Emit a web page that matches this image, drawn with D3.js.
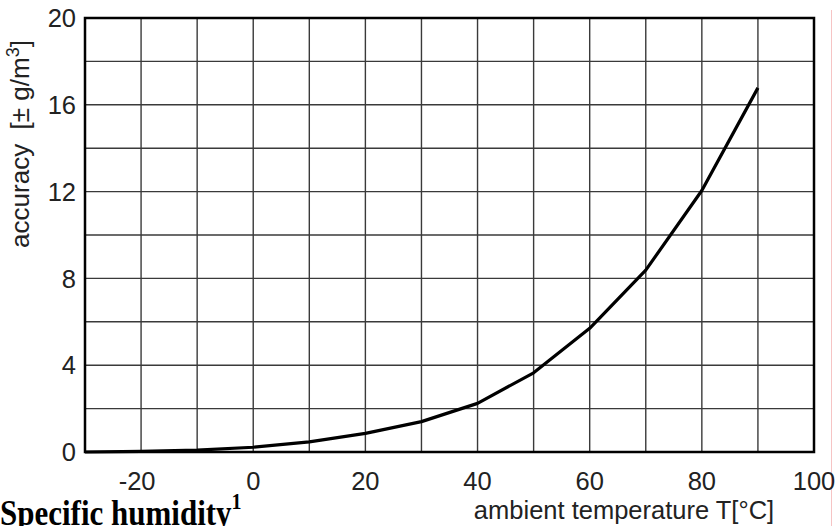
<!DOCTYPE html>
<html>
<head>
<meta charset="utf-8">
<script src="https://cdn.jsdelivr.net/npm/d3@7"></script>
<style>
  body { margin: 0; background: #fff; }
  svg { display: block; }
  text { font-family: "Liberation Sans", Arial, sans-serif; fill: #222; }
  text.cap { font-family: "Liberation Serif", "Times New Roman", serif; font-weight: bold; fill: #000; }
</style>
</head>
<body>
<script>
;(function (d3) {
  // temperature in °C, accuracy in ± g/m3
  var temps = [-30, -20, -10, 0, 10, 20, 30, 40, 50, 60, 70, 80, 90]
  var accuracy = [0.0, 0.03, 0.09, 0.22, 0.47, 0.86, 1.40, 2.24, 3.65, 5.70, 8.38, 12.05, 16.78]

  var xTicks = [-20, 0, 20, 40, 60, 80, 100]
  var yTicks = [0, 4, 8, 12, 16, 20]
  var xGrid = d3.range(-20, 100, 10)
  var yGrid = d3.range(2, 20, 2)

  var W = 836, H = 526
  var svg = d3.select('body').append('svg')
    .attr('width', W)
    .attr('height', H)

  var x = d3.scaleLinear().domain([-30, 100]).range([85, 814])
  var y = d3.scaleLinear().domain([0, 20]).range([452, 18])

  // faint pink line on the right edge
  svg.append('line')
    .attr('x1', 831.5).attr('x2', 831.5)
    .attr('y1', 10).attr('y2', H)
    .attr('stroke', '#f6c4c4')
    .attr('stroke-width', 1)

  // grid
  svg.append('g').selectAll('line')
    .data(xGrid)
    .enter().append('line')
    .attr('x1', function (d) { return x(d) })
    .attr('x2', function (d) { return x(d) })
    .attr('y1', y(0)).attr('y2', y(20))
    .attr('stroke', '#3a3a3a')
    .attr('stroke-width', 1.4)

  svg.append('g').selectAll('line')
    .data(yGrid)
    .enter().append('line')
    .attr('y1', function (d) { return y(d) })
    .attr('y2', function (d) { return y(d) })
    .attr('x1', x(-30)).attr('x2', x(100))
    .attr('stroke', '#3a3a3a')
    .attr('stroke-width', 1.4)

  // curve
  var line = d3.line()
    .x(function (d, i) { return x(temps[i]) })
    .y(function (d) { return y(d) })

  svg.append('path')
    .datum(accuracy)
    .attr('d', line)
    .attr('fill', 'none')
    .attr('stroke', '#000')
    .attr('stroke-width', 3.2)
    .attr('stroke-linejoin', 'round')

  // frame
  svg.append('rect')
    .attr('x', x(-30)).attr('y', y(20))
    .attr('width', x(100) - x(-30))
    .attr('height', y(0) - y(20))
    .attr('fill', 'none')
    .attr('stroke', '#000')
    .attr('stroke-width', 2.5)

  // tick labels
  svg.append('g').selectAll('text')
    .data(yTicks)
    .enter().append('text')
    .attr('x', 76)
    .attr('y', function (d) { return y(d) })
    .attr('dy', '0.36em')
    .attr('text-anchor', 'end')
    .attr('font-size', 25.5)
    .text(function (d) { return d })

  svg.append('g').selectAll('text')
    .data(xTicks)
    .enter().append('text')
    .attr('x', function (d) { return x(d) + (d < 0 ? -4 : 0) })
    .attr('y', 490)
    .attr('text-anchor', 'middle')
    .attr('font-size', 25.5)
    .text(function (d) { return d })

  // axis titles
  svg.append('text')
    .attr('x', 624)
    .attr('y', 519)
    .attr('text-anchor', 'middle')
    .attr('font-size', 25.5)
    .text('ambient temperature T[°C]')

  var yt = svg.append('text')
    .attr('transform', 'translate(29,144) rotate(-90)')
    .attr('text-anchor', 'middle')
    .attr('font-size', 26)
  yt.append('tspan').text('accuracy\u00a0\u00a0[± g/m')
  yt.append('tspan').attr('font-size', 18).attr('dy', -10).text('3')
  yt.append('tspan').attr('dy', 10).text(']')

  // caption
  var cap = svg.append('text')
    .attr('class', 'cap')
    .attr('transform', 'translate(0,525) scale(1,1.15)')
    .attr('font-size', 31)
  cap.append('tspan').text('Specific humidity')
  cap.append('tspan').attr('font-size', 20).attr('dy', -14).text('1')
})(window.d3)
</script>
</body>
</html>
